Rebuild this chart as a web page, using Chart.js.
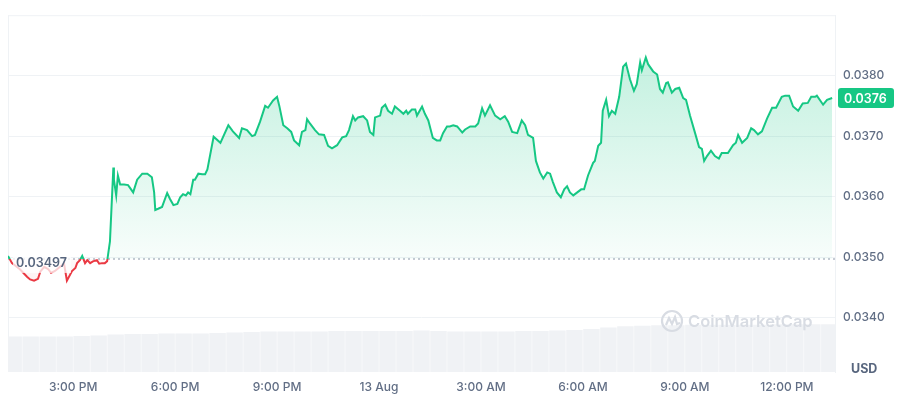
<!DOCTYPE html>
<html>
<head>
<meta charset="utf-8">
<script src="https://cdn.jsdelivr.net/npm/chart.js@4.4.1/dist/chart.umd.min.js"></script>
<style>
  html, body { margin: 0; padding: 0; background: #fff; }
  #wrap { width: 900px; height: 400px; }
</style>
</head>
<body>
<div id="wrap"><canvas id="priceChart" width="900" height="400"></canvas></div>
<script>
// --- data ---
// minutes after 12:00 PM on 12 Aug
const priceMinutes = [
  65, 72, 86, 99, 104, 111, 118, 122, 129, 136,
  141, 148, 157, 164, 169, 178, 184, 187, 192, 196,
  198, 201, 205, 210, 215, 222, 226, 231, 236, 240,
  245, 251, 252, 256, 259, 263, 270, 277, 286, 293,
  302, 311, 319, 323, 325, 330, 337, 346, 351, 357,
  364, 369, 374, 379, 383, 387, 392, 395, 401, 408,
  413, 417, 428, 440, 454, 462, 473, 478, 487, 496,
  501, 510, 519, 524, 533, 540, 544, 551, 558, 565,
  570, 579, 584, 590, 593, 598, 607, 614, 623, 630,
  637, 646, 655, 662, 667, 674, 678, 683, 692, 699,
  704, 710, 713, 722, 725, 731, 736, 743, 748, 757,
  763, 768, 771, 778, 784, 787, 796, 801, 807, 815,
  822, 828, 833, 840, 845, 851, 858, 867, 872, 881,
  890, 895, 902, 907, 916, 925, 934, 942, 948, 955,
  964, 972, 978, 983, 992, 997, 1004, 1010, 1017, 1022,
  1027, 1034, 1041, 1047, 1052, 1057, 1063, 1070, 1077, 1082,
  1089, 1098, 1101, 1107, 1112, 1115, 1121, 1126, 1131, 1137,
  1144, 1151, 1156, 1163, 1170, 1175, 1181, 1184, 1191, 1195,
  1204, 1211, 1216, 1221, 1227, 1230, 1237, 1243, 1250, 1257,
  1262, 1269, 1278, 1285, 1290, 1294, 1299, 1306, 1313, 1320,
  1325, 1336, 1345, 1350, 1354, 1361, 1370, 1377, 1382, 1389,
  1396, 1405, 1414, 1421, 1431, 1437, 1444, 1451, 1460, 1468,
  1477, 1483, 1490, 1493, 1504, 1511, 1520
];
const prices = [
  0.03502, 0.03490, 0.03480, 0.03467, 0.03463, 0.03461, 0.03464, 0.03476, 0.03484, 0.03480,
  0.03474, 0.03477, 0.03484, 0.03489, 0.03461, 0.03477, 0.03482, 0.03490, 0.03495, 0.03502,
  0.03497, 0.03490, 0.03495, 0.03490, 0.03493, 0.03495, 0.03489, 0.03490, 0.03490, 0.03493,
  0.03526, 0.03648, 0.03628, 0.03602, 0.03635, 0.03620, 0.03620, 0.03619, 0.03607, 0.03628,
  0.03638, 0.03638, 0.03632, 0.03607, 0.03578, 0.03580, 0.03583, 0.03606, 0.03596, 0.03586,
  0.03588, 0.03599, 0.03604, 0.03602, 0.03607, 0.03604, 0.03628, 0.03628, 0.03638, 0.03637,
  0.03637, 0.03645, 0.03699, 0.03689, 0.03718, 0.03708, 0.03697, 0.03713, 0.03710, 0.03700,
  0.03702, 0.03724, 0.03750, 0.03747, 0.03759, 0.03765, 0.03750, 0.03718, 0.03713, 0.03707,
  0.03693, 0.03685, 0.03707, 0.03710, 0.03728, 0.03721, 0.03710, 0.03703, 0.03702, 0.03684,
  0.03680, 0.03685, 0.03698, 0.03700, 0.03710, 0.03733, 0.03726, 0.03731, 0.03733, 0.03726,
  0.03707, 0.03702, 0.03731, 0.03734, 0.03747, 0.03752, 0.03742, 0.03737, 0.03749, 0.03742,
  0.03737, 0.03742, 0.03737, 0.03744, 0.03744, 0.03734, 0.03749, 0.03737, 0.03726, 0.03697,
  0.03693, 0.03693, 0.03705, 0.03716, 0.03716, 0.03718, 0.03716, 0.03706, 0.03711, 0.03716,
  0.03716, 0.03721, 0.03746, 0.03734, 0.03751, 0.03734, 0.03728, 0.03733, 0.03724, 0.03707,
  0.03705, 0.03726, 0.03718, 0.03702, 0.03697, 0.03659, 0.03640, 0.03630, 0.03640, 0.03638,
  0.03624, 0.03607, 0.03599, 0.03612, 0.03617, 0.03607, 0.03602, 0.03607, 0.03612, 0.03612,
  0.03635, 0.03656, 0.03659, 0.03684, 0.03689, 0.03742, 0.03760, 0.03733, 0.03742, 0.03737,
  0.03765, 0.03815, 0.03820, 0.03794, 0.03775, 0.03786, 0.03822, 0.03809, 0.03830, 0.03819,
  0.03807, 0.03802, 0.03778, 0.03772, 0.03788, 0.03789, 0.03772, 0.03778, 0.03780, 0.03763,
  0.03760, 0.03734, 0.03705, 0.03682, 0.03679, 0.03659, 0.03667, 0.03676, 0.03667, 0.03663,
  0.03672, 0.03672, 0.03685, 0.03689, 0.03702, 0.03689, 0.03697, 0.03713, 0.03710, 0.03703,
  0.03708, 0.03729, 0.03747, 0.03747, 0.03765, 0.03767, 0.03767, 0.03749, 0.03742, 0.03754,
  0.03755, 0.03765, 0.03765, 0.03767, 0.03752, 0.03760, 0.03763
];
// volume (millions), one bar per 30 minutes
const volumeMinutes = [
  75, 105, 135, 165, 195, 225, 255, 285, 315, 345,
  375, 405, 435, 465, 495, 525, 555, 585, 615, 645,
  675, 705, 735, 765, 795, 825, 855, 885, 915, 945,
  975, 1005, 1035, 1065, 1095, 1125, 1155, 1185, 1215, 1245,
  1275, 1305, 1335, 1365, 1395, 1425, 1455, 1485, 1515
];
const volumes = [
  7.16, 7.16, 7.16, 7.16, 7.26, 7.36, 7.56, 7.66, 7.66, 7.76,
  7.76, 7.76, 7.86, 7.96, 8.06, 8.16, 8.16, 8.16, 8.16, 8.26,
  8.26, 8.26, 8.26, 8.26, 8.36, 8.26, 8.16, 8.16, 8.16, 8.16,
  8.26, 8.26, 8.36, 8.46, 8.66, 8.96, 9.25, 9.35, 9.45, 9.45,
  9.55, 9.55, 9.55, 9.55, 9.55, 9.65, 9.65, 9.65, 9.65
];
const openPrice = 0.03497;
const xTickMinutes = [180, 360, 540, 720, 900, 1080, 1260, 1440];
const xTickLabels = ['3:00 PM', '6:00 PM', '9:00 PM', '13 Aug', '3:00 AM', '6:00 AM', '9:00 AM', '12:00 PM'];
const yTicks = [0.034, 0.035, 0.036, 0.037, 0.038];

const GREEN = '#16c784';
const RED = '#ea3943';
const FONT = "'Inter', 'Noto Sans', sans-serif";

// gradient split at the opening price: green above, red below
function splitGradient(chart, topA, baseA, botA) {
  const { chartArea, scales } = chart;
  const yb = scales.y.getPixelForValue(openPrice);
  const r = Math.min(1, Math.max(0, (yb - chartArea.top) / (chartArea.bottom - chartArea.top)));
  const g = chart.ctx.createLinearGradient(0, chartArea.top, 0, chartArea.bottom);
  if (topA === null) {
    g.addColorStop(0, GREEN); g.addColorStop(r, GREEN);
    g.addColorStop(r, RED); g.addColorStop(1, RED);
  } else {
    g.addColorStop(0, 'rgba(22,199,132,' + topA + ')');
    g.addColorStop(r, 'rgba(22,199,132,' + baseA + ')');
    g.addColorStop(r, 'rgba(234,57,67,' + baseA + ')');
    g.addColorStop(1, 'rgba(234,57,67,' + botA + ')');
  }
  return g;
}

const overlay = {
  id: 'overlay',
  beforeDraw(chart) {
    const { ctx, width, height, chartArea: a } = chart;
    ctx.save();
    ctx.fillStyle = '#fff';
    ctx.fillRect(0, 0, width, height);
    ctx.strokeStyle = '#eff2f5';
    ctx.lineWidth = 1;
    ctx.beginPath();
    ctx.moveTo(a.left + 0.5, a.top);
    ctx.lineTo(a.left + 0.5, a.bottom);
    ctx.moveTo(a.left, a.top + 0.5);
    ctx.lineTo(a.right, a.top + 0.5);
    ctx.stroke();
    ctx.restore();
  },
  afterDraw(chart) {
    const { ctx, chartArea: a, scales: { y } } = chart;
    ctx.save();

    // watermark
    const wx = a.right - 163, wy = a.bottom - 51;
    ctx.strokeStyle = '#d8dce3';
    ctx.lineWidth = 2.2;
    ctx.beginPath();
    ctx.arc(wx, wy, 10, 0, Math.PI * 2);
    ctx.stroke();
    ctx.beginPath();
    ctx.moveTo(wx - 6, wy + 4);
    ctx.lineTo(wx - 3, wy - 3);
    ctx.lineTo(wx, wy + 3);
    ctx.lineTo(wx + 3, wy - 4);
    ctx.lineTo(wx + 5, wy + 3);
    ctx.lineTo(wx + 8, wy + 2);
    ctx.stroke();
    ctx.fillStyle = '#d8dce3';
    ctx.font = '600 16.5px ' + FONT;
    ctx.textBaseline = 'middle';
    ctx.textAlign = 'left';
    ctx.fillText('CoinMarketCap', wx + 16, wy + 1);

    // opening price label
    const yb = y.getPixelForValue(openPrice);
    ctx.fillStyle = 'rgba(255,255,255,0.75)';
    ctx.fillRect(a.left + 5, yb - 6, 58, 20);
    ctx.fillStyle = '#58667e';
    ctx.font = '600 12.5px ' + FONT;
    ctx.fillText(openPrice.toFixed(5), a.left + 8, yb + 4);

    // last price badge
    const last = prices[prices.length - 1];
    const ly = y.getPixelForValue(last);
    ctx.fillStyle = GREEN;
    ctx.beginPath();
    ctx.roundRect(a.right + 3, ly - 10, 56, 20, 3);
    ctx.fill();
    ctx.fillStyle = '#fff';
    ctx.font = '600 12.5px ' + FONT;
    ctx.fillText(last.toFixed(4), a.right + 9, ly + 1);

    // currency
    ctx.fillStyle = '#58667e';
    ctx.font = '700 12.5px ' + FONT;
    ctx.fillText('USD', a.right + 16, a.bottom - 3);
    ctx.restore();
  }
};

const chart = new Chart(document.getElementById('priceChart'), {
  data: {
    datasets: [
      {
        type: 'line',
        data: priceMinutes.map((m, i) => ({ x: m, y: prices[i] })),
        borderWidth: 2,
        pointRadius: 0,
        tension: 0,
        borderColor: (c) => c.chart.chartArea ? splitGradient(c.chart, null) : GREEN,
        backgroundColor: (c) => c.chart.chartArea ? splitGradient(c.chart, 0.30, 0.03, 0.22) : 'rgba(22,199,132,0.1)',
        fill: { target: { value: openPrice } },
        order: 1
      },
      {
        type: 'line',
        data: [{ x: 65, y: openPrice }, { x: 1525, y: openPrice }],
        borderColor: '#b4bac6',
        borderWidth: 1.5,
        borderDash: [2, 3],
        pointRadius: 0,
        fill: false,
        order: 2
      },
      {
        type: 'bar',
        data: volumeMinutes.map((m, i) => ({ x: m, y: volumes[i] })),
        yAxisID: 'y2',
        backgroundColor: '#f0f2f5',
        barPercentage: 0.97,
        categoryPercentage: 1,
        order: 3
      }
    ]
  },
  options: {
    responsive: false,
    animation: false,
    layout: { padding: { left: 8, top: 10, right: 0, bottom: 0 } },
    plugins: { legend: { display: false }, tooltip: { enabled: false } },
    scales: {
      x: {
        type: 'linear',
        min: 65,
        max: 1525,
        offset: false,
        afterBuildTicks: (s) => { s.ticks = xTickMinutes.map(v => ({ value: v })); },
        afterFit: (s) => { s.height = 28; },
        grid: { display: false, offset: false },
        border: { display: false },
        ticks: {
          padding: 0,
          maxRotation: 0,
          autoSkip: false,
          color: '#616e85',
          font: { family: FONT, size: 12, weight: '500' },
          callback: (v) => xTickLabels[xTickMinutes.indexOf(v)]
        }
      },
      y: {
        position: 'right',
        min: 0.0331,
        max: 0.0390,
        afterBuildTicks: (s) => { s.ticks = yTicks.map(v => ({ value: v })); },
        afterFit: (s) => { s.width = 65; },
        grid: { color: '#eff2f5', drawTicks: false },
        border: { display: true, color: '#eff2f5' },
        ticks: {
          padding: 8,
          color: '#616e85',
          font: { family: FONT, size: 12, weight: '500' },
          callback: (v) => v.toFixed(4)
        }
      },
      y2: {
        display: false,
        min: 0,
        max: 72
      }
    }
  },
  plugins: [overlay]
});
</script>
</body>
</html>
